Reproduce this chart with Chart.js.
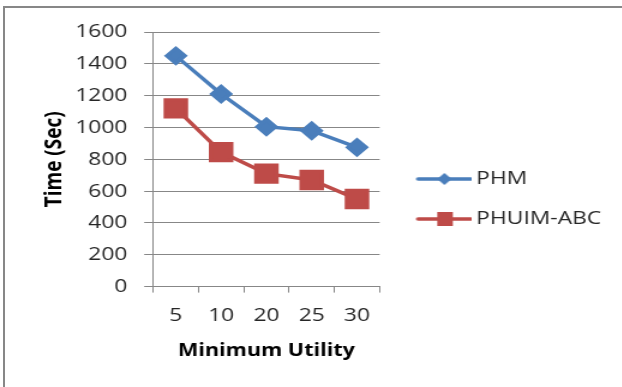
<!DOCTYPE html>
<html>
<head>
<meta charset="utf-8">
<script src="https://cdn.jsdelivr.net/npm/chart.js@4/dist/chart.umd.min.js"></script>
<style>
  html, body { margin: 0; padding: 0; background: #fff; overflow: hidden; }
  #frame { position: absolute; left: 3px; top: 6px; width: 700px; height: 400px;
           border-top: 2px solid #878787; border-left: 2px solid #878787; }
  /* the original picture is stretched sideways, so the canvas is too */
  #graphique { position: absolute; left: 0; top: 0; transform: scaleX(1.2); transform-origin: 0 0; }
</style>
</head>
<body>
<div id="frame"></div>
<canvas id="graphique" width="518" height="387"></canvas>
<script>
// ===== data =====
const utilities = ["5", "10", "20", "25", "30"];
const phm = [1450, 1210, 1005, 980, 875];
const phuimAbc = [1120, 845, 710, 670, 550];
const yTicks = [0, 200, 400, 600, 800, 1000, 1200, 1400, 1600];

const BLUE = "#4a7ebb";
const RED = "#be4b48";
const GRID = "#878787";
const TEXT = "#262626";

// legend sample : a line with the marker in the middle
function legendSample(color, style) {
  const c = document.createElement("canvas");
  c.width = 62; c.height = 20;
  const g = c.getContext("2d");
  g.strokeStyle = color; g.lineWidth = 3.5; g.lineCap = "round";
  g.beginPath(); g.moveTo(17, 10); g.lineTo(61, 10); g.stroke();
  g.fillStyle = color;
  if (style === "rectRot") {
    g.beginPath(); g.moveTo(39, 4); g.lineTo(45, 10); g.lineTo(39, 16); g.lineTo(33, 10); g.closePath(); g.fill();
  } else {
    g.fillRect(33, 3, 13, 14);
  }
  return c;
}

// the legend box is capped in width by the layout, let it run to the canvas edge
const widenLegend = {
  id: "widenLegend",
  afterLayout(chart) {
    const lg = chart.legend;
    if (lg) { lg.right = chart.width; lg.width = lg.right - lg.left; }
  }
};

function createChart() {
  const ctx = document.getElementById("graphique");
  const samples = [legendSample(BLUE, "rectRot"), legendSample(RED, "rect")];

  new Chart(ctx, {
    type: "line",
    data: {
      labels: utilities,
      datasets: [
        {
          label: "PHM",
          data: phm,
          borderColor: BLUE,
          backgroundColor: BLUE,
          borderWidth: 3.5,
          pointStyle: "rectRot",
          pointRadius: 7.5,
          tension: 0
        },
        {
          label: "PHUIM-ABC",
          data: phuimAbc,
          borderColor: RED,
          backgroundColor: RED,
          borderWidth: 3.5,
          pointStyle: "rect",
          pointRadius: 12,
          tension: 0
        }
      ]
    },
    plugins: [widenLegend],
    options: {
      responsive: false,
      animation: false,
      devicePixelRatio: 1,
      layout: { padding: { top: 32, left: 33.3, right: 107.3, bottom: 21 } },
      plugins: {
        tooltip: { enabled: false },
        legend: {
          position: "right",
          align: "center",
          labels: {
            usePointStyle: true,
            pointStyleWidth: 50,
            padding: 21,
            color: TEXT,
            font: { family: "Open Sans", size: 19 },
            generateLabels: (chart) => chart.data.datasets.map((ds, i) => ({
              text: ds.label,
              datasetIndex: i,
              pointStyle: samples[i],
              fillStyle: ds.backgroundColor,
              strokeStyle: ds.borderColor,
              lineWidth: 0,
              fontColor: TEXT
            }))
          }
        }
      },
      scales: {
        x: {
          offset: true,
          grid: { offset: true, drawOnChartArea: false, color: GRID, tickLength: 6 },
          border: { color: GRID, width: 1 },
          ticks: { color: TEXT, padding: 12, font: { family: "Open Sans", size: 19 }, maxRotation: 0 },
          title: { display: true, text: "Minimum Utility", color: "#000", padding: { top: 1 },
                   font: { family: "Open Sans", size: 18, weight: "bold" } }
        },
        y: {
          min: 0,
          max: 1600,
          afterBuildTicks: (scale) => { scale.ticks = yTicks.map(v => ({ value: v })); },
          grid: { color: GRID, tickLength: 7.5 },
          border: { color: GRID, width: 1 },
          ticks: { color: TEXT, padding: 14, font: { family: "Open Sans", size: 19 },
                   callback: (v) => String(v) },
          title: { display: true, text: "Time (Sec)", color: "#000", padding: { top: 1.1, bottom: 6 },
                   font: { family: "Open Sans", size: 19, weight: "bold" } }
        }
      }
    }
  });
}

document.addEventListener("DOMContentLoaded", createChart);
</script>
</body>
</html>
